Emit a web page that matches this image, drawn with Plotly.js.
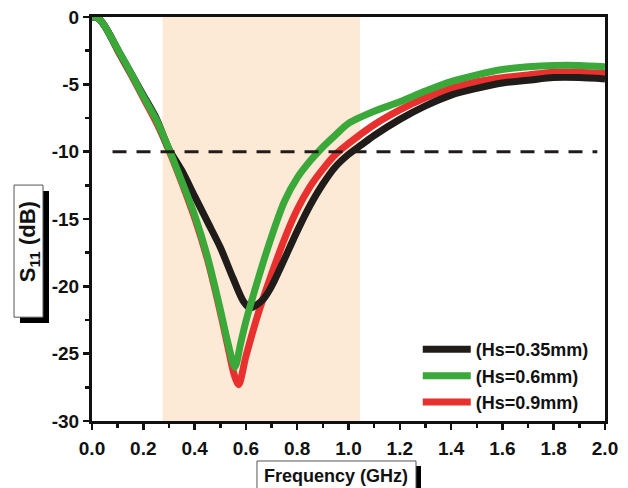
<!DOCTYPE html>
<html>
<head>
<meta charset="utf-8">
<script src="https://cdn.plot.ly/plotly-3.0.1.min.js"></script>
<style>html,body{margin:0;padding:0;background:#fff}#chart{width:628px;height:488px}</style>
</head>
<body>
<div id="chart"></div>
<script>
// Frequency (GHz) sample points and S11 (dB) values
var freqBlack = [0, 0.02, 0.04, 0.06, 0.08, 0.1, 0.15, 0.2, 0.25, 0.3, 0.35, 0.4, 0.45, 0.5, 0.55, 0.59, 0.616, 0.64, 0.67, 0.7, 0.74, 0.8, 0.85, 0.9, 0.95, 1.0, 1.05, 1.1, 1.2, 1.3, 1.4, 1.5, 1.6, 1.7, 1.8, 1.9, 2.0];
var s11Black  = [0, -0.05, -0.4, -1.0, -1.7, -2.4, -4.1, -5.8, -7.5, -9.8, -11.4, -13.3, -15.2, -17.1, -19.4, -21.1, -21.6, -21.4, -20.9, -20.0, -18.4, -15.9, -14.0, -12.4, -11.1, -10.2, -9.5, -8.8, -7.6, -6.6, -5.8, -5.3, -4.9, -4.7, -4.5, -4.5, -4.6];

var freqGreen = [0, 0.02, 0.04, 0.06, 0.08, 0.1, 0.15, 0.2, 0.25, 0.3, 0.35, 0.4, 0.45, 0.5, 0.53, 0.557, 0.58, 0.6, 0.65, 0.7, 0.75, 0.8, 0.85, 0.9, 0.95, 1.0, 1.1, 1.2, 1.3, 1.4, 1.5, 1.6, 1.7, 1.8, 1.9, 2.0];
var s11Green  = [0, -0.05, -0.4, -1.0, -1.7, -2.4, -4.1, -5.9, -7.6, -9.8, -12.2, -14.7, -17.8, -21.7, -24.2, -26.0, -24.2, -22.6, -19.3, -16.3, -13.7, -11.95, -10.7, -9.65, -8.75, -7.9, -7.0, -6.3, -5.5, -4.8, -4.3, -3.9, -3.7, -3.6, -3.6, -3.7];

var freqRed = [0, 0.02, 0.04, 0.06, 0.08, 0.1, 0.15, 0.2, 0.25, 0.3, 0.35, 0.4, 0.45, 0.5, 0.53, 0.555, 0.572, 0.6, 0.65, 0.7, 0.75, 0.8, 0.85, 0.9, 0.95, 1.0, 1.1, 1.2, 1.3, 1.4, 1.5, 1.6, 1.7, 1.8, 1.9, 2.0];
var s11Red  = [0, -0.05, -0.4, -1.0, -1.7, -2.5, -4.2, -6.0, -7.8, -9.9, -12.3, -14.9, -18.0, -21.9, -24.5, -26.6, -27.3, -25.2, -21.9, -19.1, -16.5, -14.3, -12.6, -11.3, -10.2, -9.4, -8.0, -6.9, -6.0, -5.3, -4.8, -4.5, -4.3, -4.1, -4.1, -4.2];

var seriesNames = ['(Hs=0.35mm)', '(Hs=0.6mm)', '(Hs=0.9mm)'];

// -10 dB reference line and shaded band
var refX = [0.08, 1.97];
var refY = [-10, -10];
var bandRange = [0.275, 1.045];

// tick labels
var xTickVals = [0, 0.2, 0.4, 0.6, 0.8, 1.0, 1.2, 1.4, 1.6, 1.8, 2.0];
var xTickText = ['0.0', '0.2', '0.4', '0.6', '0.8', '1.0', '1.2', '1.4', '1.6', '1.8', '2.0'];
var yTickVals = [0, -5, -10, -15, -20, -25, -30];
var yTickText = ['0', '-5', '-10', '-15', '-20', '-25', '-30'];

var FONT = 'Liberation Sans, Arial, sans-serif';
var cBlack = '#201c1a', cGreen = '#3ba83a', cRed = '#e8312f';
var LW = 7;
var SM = 0.8;

var traces = [
  {x: freqRed, y: s11Red, name: seriesNames[2], mode: 'lines', line: {color: cRed, width: LW, shape: 'spline', smoothing: SM}, legendrank: 3, hoverinfo: 'skip'},
  {x: freqBlack, y: s11Black, name: seriesNames[0], mode: 'lines', line: {color: cBlack, width: LW, shape: 'spline', smoothing: SM}, legendrank: 1, hoverinfo: 'skip'},
  {x: freqGreen, y: s11Green, name: seriesNames[1], mode: 'lines', line: {color: cGreen, width: LW, shape: 'spline', smoothing: SM}, legendrank: 2, hoverinfo: 'skip'},
  {x: refX, y: refY, mode: 'lines', showlegend: false, line: {color: cBlack, width: 3, dash: '14px,10px'}, hoverinfo: 'skip'}
];

var layout = {
  width: 628, height: 488,
  margin: {l: 92, r: 23, t: 17, b: 67},
  paper_bgcolor: '#ffffff', plot_bgcolor: '#ffffff',
  showlegend: true,
  legend: {
    x: 0.635, xanchor: 'left', y: 0.2225, yanchor: 'top',
    bgcolor: 'rgba(0,0,0,0)', borderwidth: 0,
    font: {family: FONT, size: 18, color: '#111', weight: 'bold'},
    itemwidth: 48, tracegroupgap: 0
  },
  xaxis: {
    range: [0, 2.0], showgrid: false, zeroline: false,
    showline: true, linecolor: '#111', linewidth: 3, mirror: true,
    ticks: 'outside', ticklen: 6, tickwidth: 2.5, tickcolor: '#111',
    tickvals: xTickVals, ticktext: xTickText,
    minor: {dtick: 0.1, tick0: 0, ticks: 'outside', ticklen: 4, tickwidth: 2.5, tickcolor: '#111'},
    tickfont: {family: FONT, size: 19, color: '#111', weight: 'bold'},
    ticklabelstandoff: 2
  },
  yaxis: {
    range: [-30, 0], showgrid: false, zeroline: false,
    showline: true, linecolor: '#111', linewidth: 3, mirror: true,
    ticks: 'outside', ticklen: 6, tickwidth: 2.5, tickcolor: '#111',
    tickvals: yTickVals, ticktext: yTickText,
    minor: {dtick: 2.5, tick0: 0, ticks: 'outside', ticklen: 4, tickwidth: 2.5, tickcolor: '#111'},
    tickfont: {family: FONT, size: 19, color: '#111', weight: 'bold'},
    ticklabelstandoff: 0
  },
  shapes: [
    {type: 'rect', xref: 'x', yref: 'paper', x0: bandRange[0], x1: bandRange[1], y0: 0, y1: 1,
     fillcolor: '#fdead6', line: {width: 0}, layer: 'below'},
    // y-title box shadow + box
    {type: 'rect', xref: 'paper', yref: 'paper', x0: -0.1404, x1: -0.0838, y0: 0.2426, y1: 0.569,
     fillcolor: '#000', line: {width: 0}, layer: 'below'},
    {type: 'rect', xref: 'paper', yref: 'paper', x0: -0.152, x1: -0.0955, y0: 0.257, y1: 0.584,
     fillcolor: '#fff', line: {color: '#555', width: 1}, layer: 'below'},
    // x-title box shadow + box
    {type: 'rect', xref: 'paper', yref: 'paper', x0: 0.3314, x1: 0.6413, y0: -0.2, y1: -0.1114,
     fillcolor: '#000', line: {width: 0}, layer: 'below'},
    {type: 'rect', xref: 'paper', yref: 'paper', x0: 0.3216, x1: 0.6316, y0: -0.19, y1: -0.099,
     fillcolor: '#fff', line: {color: '#555', width: 1}, layer: 'below'}
  ],
  annotations: [
    {xref: 'paper', yref: 'paper', x: -0.1237, y: 0.444, xanchor: 'center', yanchor: 'middle',
     text: 'S<sub>11</sub> (dB)', textangle: -90,
     showarrow: false, font: {family: FONT, size: 22, color: '#111', weight: 'bold'}},
    {xref: 'paper', yref: 'paper', x: 0.4766, y: -0.136, xanchor: 'center', yanchor: 'middle',
     text: 'Frequency (GHz)',
     showarrow: false, font: {family: FONT, size: 18, color: '#111', weight: 'bold'}}
  ]
};

Plotly.newPlot('chart', traces, layout, {staticPlot: true, displayModeBar: false});
</script>
</body>
</html>
